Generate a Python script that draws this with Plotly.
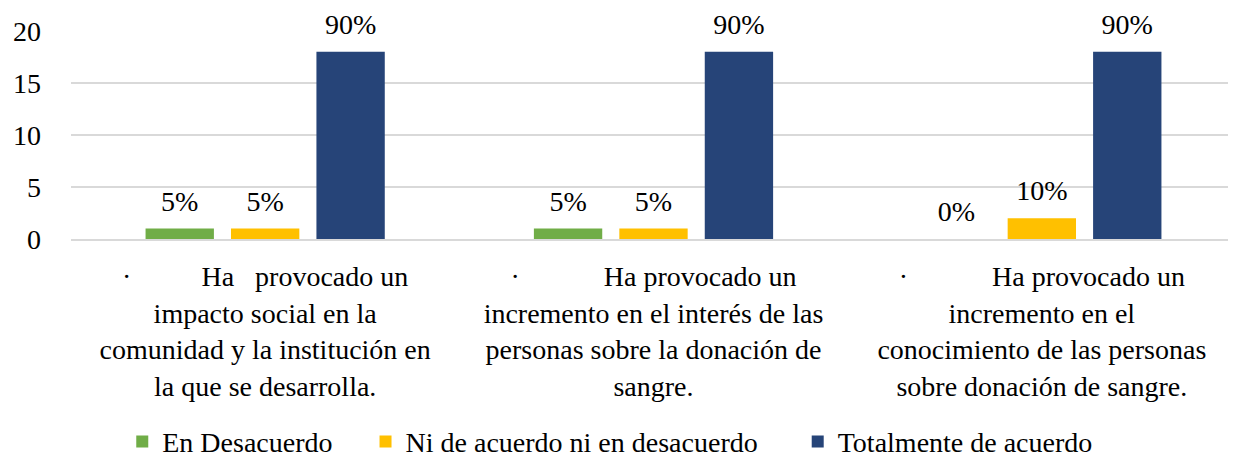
import plotly.graph_objects as go

NB = "\u00a0"

categories = [
    "·" + NB * 10 + "Ha" + NB * 3 + "provocado un<br>impacto social en la<br>comunidad y la institución en<br>la que se desarrolla.",
    "·" + NB * 12 + "Ha provocado un<br>incremento en el interés de las<br>personas sobre la donación de<br>sangre.",
    "·" + NB * 12 + "Ha provocado un<br>incremento en el<br>conocimiento de las personas<br>sobre donación de sangre.",
]

series_names = ["En Desacuerdo", "Ni de acuerdo ni en desacuerdo", "Totalmente de acuerdo"]
desacuerdo = [1, 1, 0]
neutral = [1, 1, 2]
acuerdo = [18, 18, 18]
pct_desacuerdo = ["5%", "5%", "0%"]
pct_neutral = ["5%", "5%", "10%"]
pct_acuerdo = ["90%", "90%", "90%"]

colors = ["#70AD47", "#FFC000", "#264478"]
legend_pad = [4, 5, 0]  # trailing spaces to spread the legend entries
font_family = "Liberation Serif"
fsize = 28
label_lift = 0.85  # raise the value labels a bit above the bars

fig = go.Figure()
for name, vals, col, pad in zip(series_names, [desacuerdo, neutral, acuerdo], colors, legend_pad):
    fig.add_trace(go.Bar(
        x=categories,
        y=vals,
        name=name + NB * pad,
        marker=dict(color=col, line=dict(width=0)),
    ))

# value labels, drawn on an overlaid axis shifted slightly upwards
for vals, labels in zip([desacuerdo, neutral, acuerdo],
                        [pct_desacuerdo, pct_neutral, pct_acuerdo]):
    fig.add_trace(go.Bar(
        x=categories,
        y=vals,
        yaxis="y2",
        marker=dict(color="rgba(0,0,0,0)", line=dict(width=0)),
        text=labels,
        textposition="outside",
        textfont=dict(size=fsize, color="#000000", family=font_family),
        cliponaxis=False,
        showlegend=False,
        hoverinfo="skip",
    ))

fig.update_layout(
    width=1228,
    height=449,
    barmode="group",
    bargap=0.34,
    bargroupgap=0.2,
    plot_bgcolor="white",
    paper_bgcolor="white",
    font=dict(family=font_family, size=fsize, color="#000000"),
    margin=dict(l=63, r=0, t=23, b=218),
    showlegend=True,
    legend=dict(
        orientation="h",
        x=0.044, xanchor="left",
        yref="container", y=0.034, yanchor="middle",
        font=dict(size=fsize, family=font_family),
        itemwidth=30,
        traceorder="normal",
    ),
    yaxis=dict(
        range=[0, 20],
        dtick=5,
        showgrid=True,
        gridcolor="#D9D9D9",
        gridwidth=1.5,
        zeroline=False,
        showline=False,
        ticks="",
        automargin=False,
        ticklabelstandoff=29,
        tickfont=dict(size=fsize, family=font_family),
    ),
    yaxis2=dict(
        overlaying="y",
        range=[-label_lift, 20 - label_lift],
        visible=False,
        showgrid=False,
    ),
)
fig.update_xaxes(
    showline=True,
    linecolor="#D9D9D9",
    linewidth=1.5,
    ticks="",
    tickangle=0,
    automargin=False,
    ticklabelstandoff=12,
    tickfont=dict(size=fsize, family=font_family),
)

fig.write_html("out.html")
